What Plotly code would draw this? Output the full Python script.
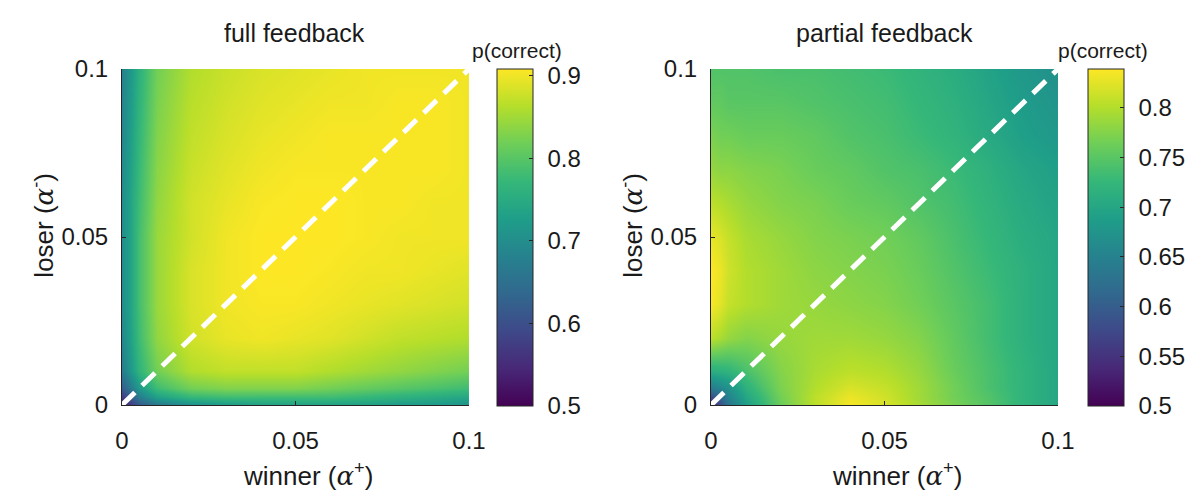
import plotly.graph_objects as go

# learning-rate grids (winner = alpha+, loser = alpha-)
winner_rate = [0, 0.0025, 0.005, 0.01, 0.02, 0.03, 0.04, 0.05, 0.06, 0.07, 0.08, 0.09, 0.1]
loser_rate = [0, 0.0025, 0.005, 0.01, 0.02, 0.03, 0.04, 0.05, 0.06, 0.07, 0.08, 0.09, 0.1]

# p(correct), rows = loser rate (ascending), columns = winner rate (ascending)
full_feedback = [
    [0.53, 0.57, 0.61, 0.66, 0.70, 0.72, 0.73, 0.73, 0.73, 0.73, 0.72, 0.72, 0.71],
    [0.57, 0.62, 0.67, 0.73, 0.77, 0.78, 0.78, 0.78, 0.78, 0.77, 0.76, 0.75, 0.74],
    [0.62, 0.67, 0.72, 0.78, 0.82, 0.83, 0.83, 0.83, 0.82, 0.81, 0.80, 0.79, 0.78],
    [0.67, 0.72, 0.765, 0.82, 0.86, 0.87, 0.87, 0.87, 0.86, 0.85, 0.84, 0.83, 0.82],
    [0.69, 0.735, 0.78, 0.84, 0.88, 0.895, 0.90, 0.895, 0.89, 0.88, 0.87, 0.865, 0.86],
    [0.70, 0.74, 0.785, 0.845, 0.885, 0.90, 0.905, 0.905, 0.90, 0.895, 0.89, 0.885, 0.88],
    [0.70, 0.74, 0.785, 0.845, 0.885, 0.90, 0.908, 0.908, 0.905, 0.90, 0.90, 0.895, 0.89],
    [0.70, 0.74, 0.785, 0.845, 0.88, 0.90, 0.908, 0.908, 0.908, 0.905, 0.90, 0.90, 0.90],
    [0.70, 0.74, 0.78, 0.84, 0.88, 0.895, 0.905, 0.908, 0.908, 0.905, 0.905, 0.90, 0.90],
    [0.695, 0.735, 0.775, 0.835, 0.875, 0.89, 0.90, 0.905, 0.905, 0.905, 0.905, 0.905, 0.90],
    [0.69, 0.73, 0.77, 0.83, 0.87, 0.885, 0.895, 0.90, 0.905, 0.905, 0.905, 0.905, 0.90],
    [0.685, 0.725, 0.765, 0.825, 0.865, 0.88, 0.89, 0.895, 0.90, 0.90, 0.905, 0.905, 0.90],
    [0.68, 0.72, 0.76, 0.82, 0.86, 0.875, 0.885, 0.89, 0.895, 0.90, 0.90, 0.90, 0.90],
]

partial_feedback = [
    [0.53, 0.58, 0.63, 0.69, 0.76, 0.805, 0.835, 0.82, 0.795, 0.77, 0.745, 0.72, 0.70],
    [0.58, 0.61, 0.65, 0.70, 0.765, 0.805, 0.83, 0.815, 0.79, 0.765, 0.745, 0.72, 0.70],
    [0.64, 0.655, 0.67, 0.715, 0.77, 0.80, 0.82, 0.81, 0.79, 0.765, 0.74, 0.72, 0.70],
    [0.71, 0.715, 0.72, 0.74, 0.775, 0.795, 0.805, 0.80, 0.785, 0.76, 0.74, 0.72, 0.70],
    [0.805, 0.795, 0.785, 0.775, 0.785, 0.79, 0.79, 0.785, 0.775, 0.755, 0.735, 0.715, 0.70],
    [0.836, 0.825, 0.81, 0.80, 0.79, 0.785, 0.78, 0.775, 0.765, 0.75, 0.735, 0.715, 0.70],
    [0.839, 0.83, 0.815, 0.80, 0.79, 0.78, 0.775, 0.77, 0.76, 0.745, 0.73, 0.715, 0.70],
    [0.828, 0.82, 0.81, 0.795, 0.785, 0.775, 0.77, 0.765, 0.755, 0.74, 0.725, 0.71, 0.70],
    [0.805, 0.80, 0.795, 0.785, 0.775, 0.77, 0.76, 0.755, 0.745, 0.735, 0.72, 0.705, 0.695],
    [0.785, 0.78, 0.78, 0.775, 0.77, 0.76, 0.755, 0.745, 0.74, 0.73, 0.715, 0.70, 0.69],
    [0.77, 0.765, 0.765, 0.76, 0.76, 0.755, 0.745, 0.74, 0.73, 0.72, 0.705, 0.69, 0.68],
    [0.755, 0.755, 0.75, 0.75, 0.75, 0.745, 0.74, 0.735, 0.725, 0.715, 0.70, 0.685, 0.675],
    [0.745, 0.745, 0.745, 0.745, 0.74, 0.74, 0.735, 0.73, 0.72, 0.71, 0.695, 0.68, 0.67],
]

# colour limits of each panel
full_clim = [0.5, 0.908]
partial_clim = [0.5, 0.839]
full_cticks = [0.5, 0.6, 0.7, 0.8, 0.9]
partial_cticks = [0.5, 0.55, 0.6, 0.65, 0.7, 0.75, 0.8]
axis_ticks = [0, 0.05, 0.1]
axis_ticklabels = ["0", "0.05", "0.1"]
diag_line = [0, 0.1]

W, H = 1190, 498
FONT = "Liberation Sans, Arial, Helvetica, sans-serif"
INK = "#262626"
TXT = "#1a1a1a"


def px_x(p):
    return p / W


def px_y(p):
    return 1 - p / H


fig = go.Figure()

panels = [
    dict(z=full_feedback, clim=full_clim, cticks=full_cticks, xa="x", ya="y",
         left=123, cb_left=501, title="full feedback", title_x=297, cb_title_x=521),
    dict(z=partial_feedback, clim=partial_clim, cticks=partial_cticks, xa="x2", ya="y2",
         left=717, cb_left=1097, title="partial feedback", title_x=892, cb_title_x=1112),
]

plot_w, top, bottom = 350, 69, 405
alpha = '<span style="font-family:\'DejaVu Serif\'"><i>α</i></span>'

for i, p in enumerate(panels):
    fig.add_trace(go.Heatmap(
        x=winner_rate, y=loser_rate, z=p["z"],
        zmin=p["clim"][0], zmax=p["clim"][1],
        colorscale="Viridis", zsmooth="best",
        xaxis=p["xa"], yaxis=p["ya"],
        colorbar=dict(
            x=px_x(p["cb_left"]), xanchor="left",
            y=px_y(bottom + 1), yanchor="bottom",
            lenmode="pixels", len=bottom + 1 - top,
            thicknessmode="pixels", thickness=36,
            xpad=0, ypad=0,
            outlinecolor=INK, outlinewidth=1,
            ticks="inside", ticklen=4, tickcolor=INK,
            tickvals=p["cticks"],
            ticktext=["\u00a0\u200a" + f"{v:g}" for v in p["cticks"]],
            tickfont=dict(family=FONT, size=24, color=TXT),
        ),
    ))
    fig.add_trace(go.Scatter(
        x=diag_line, y=diag_line, mode="lines",
        line=dict(color="white", width=5, dash="18px,10px"),
        xaxis=p["xa"], yaxis=p["ya"], showlegend=False, hoverinfo="skip",
    ))

    sfx = "" if i == 0 else "2"
    ax_common = dict(
        range=[0, 0.1], tickvals=axis_ticks, ticktext=axis_ticklabels,
        ticks="inside", ticklen=4, tickcolor=INK, tickwidth=1,
        showline=True, linecolor=INK, linewidth=1, mirror=False,
        showgrid=False, zeroline=False, automargin=False,
        tickfont=dict(family=FONT, size=24, color=TXT),
    )
    fig.update_layout(**{
        f"xaxis{sfx}": dict(ax_common, domain=[px_x(p["left"]), px_x(p["left"] + plot_w)],
                            anchor=f"y{sfx}", ticklabelstandoff=14),
        f"yaxis{sfx}": dict(ax_common, domain=[px_y(bottom), px_y(top)],
                            anchor=f"x{sfx}", ticklabelstandoff=8),
    })

    common = dict(xref="paper", yref="paper", showarrow=False,
                  xanchor="center", yanchor="middle")
    # panel title
    fig.add_annotation(text=p["title"], x=px_x(p["title_x"]), y=px_y(33),
                       font=dict(family=FONT, size=25, color=TXT), **common)
    # colorbar label
    fig.add_annotation(text="p(correct)", x=px_x(p["cb_title_x"]), y=px_y(51),
                       font=dict(family=FONT, size=21, color=TXT), **common)
    # axis titles
    fig.add_annotation(text=f"winner ({alpha}<sup>+</sup>)",
                       x=px_x(p["left"] + 188), y=px_y(474),
                       font=dict(family=FONT, size=26, color=TXT), **common)
    fig.add_annotation(text=f"loser ({alpha}<sup>-</sup>)", textangle=-90,
                       x=px_x(p["left"] - 81), y=px_y(225),
                       font=dict(family=FONT, size=26, color=TXT), **common)

fig.update_layout(
    width=W, height=H,
    margin=dict(l=0, r=0, t=0, b=0),
    paper_bgcolor="white", plot_bgcolor="white",
    showlegend=False,
)

fig.write_html("out.html")
